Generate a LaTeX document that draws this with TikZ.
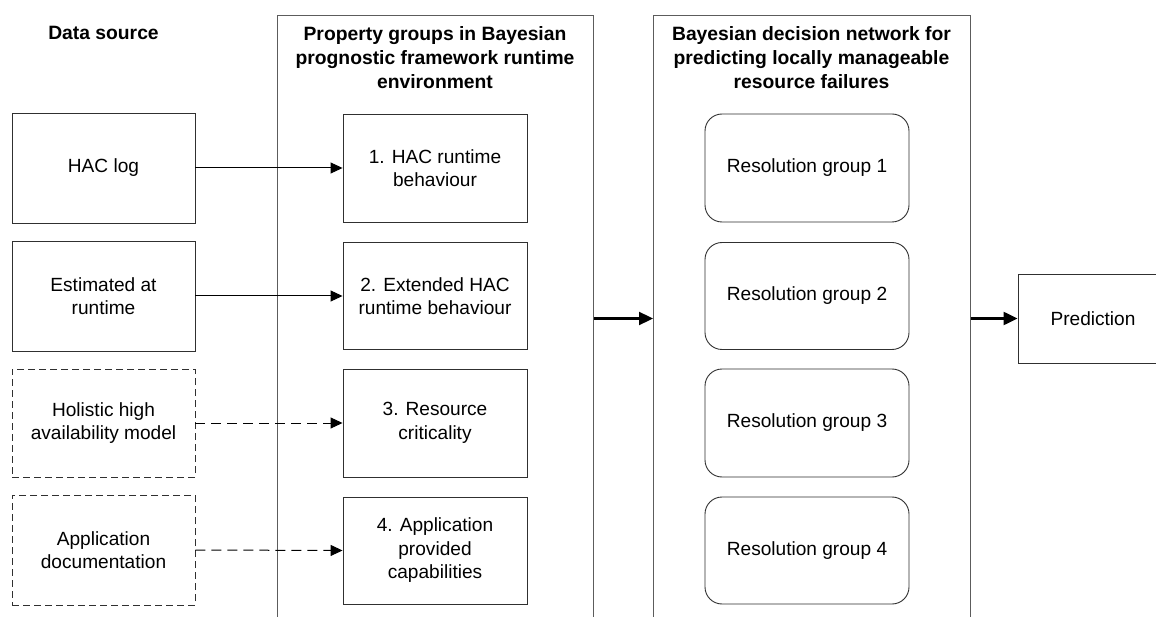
\documentclass[tikz,border=0pt]{standalone}
\usepackage{fontspec}
\setmainfont{Liberation Sans}
\usetikzlibrary{arrows.meta}
\definecolor{edgegray}{HTML}{303030}
\definecolor{framegray}{HTML}{5C5C5C}
\begin{document}
\begin{tikzpicture}[x=1pt,y=-1pt,
  bodytext/.style={font=\fontsize{19.1}{23.5}\selectfont, align=center, text=black},
  headtext/.style={font=\bfseries\fontsize{19.3}{24}\selectfont, align=center, text=black, inner sep=0pt, anchor=north},
  srcbox/.style={draw=edgegray, line width=0.9pt, rectangle, minimum width=183pt, inner sep=0pt, bodytext},
  dashbox/.style={srcbox, dash pattern=on 7pt off 4pt},
  propbox/.style={draw=edgegray, line width=0.9pt, rectangle, minimum width=184pt, inner sep=0pt, bodytext},
  resbox/.style={draw=edgegray, line width=0.9pt, rectangle, rounded corners=17pt, minimum width=204pt, inner sep=0pt, bodytext},
  frame/.style={draw=framegray, line width=1.3pt, rectangle, anchor=north west, inner sep=0pt},
  feed/.style={draw=black, line width=1pt, -{Triangle[length=12pt,width=11pt]}},
  dashfeed/.style={feed, dash pattern=on 10pt off 6pt},
  flow/.style={draw=black, line width=2.3pt, -{Triangle[length=14pt,width=13pt]}}
]
\useasboundingbox (0,0) rectangle (1156,617);
\clip (0,0) rectangle (1156,617);
\fill[white] (0,0) rectangle (1156,617);

% column frames, open towards the bottom edge
\node[frame, minimum width=316pt, minimum height=620pt] (contA) at (277,15) {};
\node[frame, minimum width=317pt, minimum height=620pt] (contB) at (653,15) {};

% column headings
\node[headtext] (hdsrc) at (103.5,26.5) {Data source};
\node[headtext] (hdA) at (435,26.5) {Property groups in Bayesian\\prognostic framework runtime\\environment};
\node[headtext] (hdB) at (811.5,26.5) {Bayesian decision network for\\predicting locally manageable\\resource failures};

% data sources
\node[srcbox, minimum height=110pt] (hac) at (103.5,168) {HAC log};
\node[srcbox, minimum height=110pt] (est) at (103.5,296) {Estimated at\\runtime};
\node[dashbox, minimum height=108pt] (hol) at (103.5,423) {Holistic high\\availability model};
\node[dashbox, minimum height=110pt] (app) at (103.5,550) {Application\\documentation};

% property groups
\node[propbox, minimum height=108pt] (p1) at (435,168) {1. HAC runtime\\behaviour};
\node[propbox, minimum height=107pt] (p2) at (435,296) {2. Extended HAC\\runtime behaviour};
\node[propbox, minimum height=108pt] (p3) at (435,423) {3. Resource\\criticality};
\node[propbox, minimum height=107pt] (p4) at (435,550.5) {4. Application\\provided\\capabilities};

% resolution groups
\node[resbox, minimum height=108pt] (r1) at (807,168) {Resolution group 1};
\node[resbox, minimum height=107pt] (r2) at (807,296) {Resolution group 2};
\node[resbox, minimum height=108pt] (r3) at (807,423) {Resolution group 3};
\node[resbox, minimum height=107pt] (r4) at (807,550.5) {Resolution group 4};

% output
\node[srcbox, minimum width=150pt, minimum height=89pt] (pred) at (1093,318.5) {Prediction};

% connectors
\draw[feed] (hac.east) -- (p1.west);
\draw[feed] (est.east) -- (p2.west);
\draw[dashfeed] (hol.east) -- (p3.west);
\draw[dashfeed] (app.east) -- (p4.west);
\draw[flow] (pred.west -| contA.east) -- (pred.west -| contB.west);
\draw[flow] (pred.west -| contB.east) -- (pred.west);
\end{tikzpicture}
\end{document}
